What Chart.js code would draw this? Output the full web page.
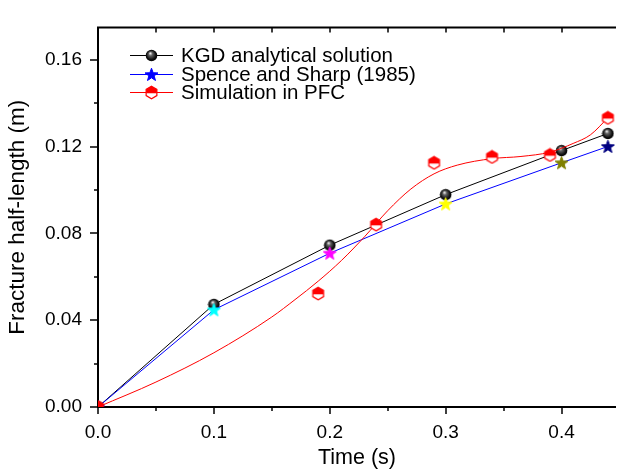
<!DOCTYPE html>
<html><head><meta charset="utf-8">
<script src="https://cdn.jsdelivr.net/npm/chart.js@4.4.0/dist/chart.umd.min.js"></script>
<style>html,body{margin:0;padding:0;background:#fff;overflow:hidden}canvas{display:block}</style>
</head><body>
<canvas id="c" width="623" height="471"></canvas>
<script>
// ---- data ----
const timeTheory   = [0, 0.1, 0.2, 0.3, 0.4, 0.44];
const kgdValues    = [0, 0.0473, 0.0746, 0.0979, 0.1182, 0.1261];
const spenceValues = [0, 0.0448, 0.0709, 0.0936, 0.1126, 0.1201];
const timeSim      = [0, 0.19, 0.24, 0.29, 0.34, 0.39, 0.44];
const simValues    = [0, 0.0523, 0.0841, 0.1126, 0.1153, 0.1162, 0.1333];
// smooth fitted curve of the simulation
const curveTime    = [0, 0.05, 0.10, 0.15, 0.17, 0.19, 0.21, 0.23, 0.25, 0.27, 0.29, 0.31, 0.34, 0.365, 0.39, 0.41, 0.425, 0.44];
const curveValues  = [0, 0.0115, 0.025, 0.0415, 0.0495, 0.058, 0.0675, 0.0785, 0.0905, 0.1005, 0.1075, 0.1115, 0.1145, 0.1155, 0.1175, 0.1215, 0.1255, 0.1333];
const seriesNames  = ['KGD analytical solution', 'Spence and Sharp (1985)', 'Simulation in PFC'];
const starColors   = ['#0000ff', '#00ffff', '#ff00ff', '#ffff00', '#808000', '#000080'];
const xTickLabels  = ['0.0', '0.1', '0.2', '0.3', '0.4'];
const yTickLabels  = ['0.00', '0.04', '0.08', '0.12', '0.16'];

const FONT = '"Liberation Sans", Arial, sans-serif';

// ---- marker images ----
function makeBall() {
  const c = document.createElement('canvas'); c.width = 13; c.height = 13;
  const g = c.getContext('2d');
  const grd = g.createRadialGradient(5.2, 4.2, 0.3, 6.5, 6.5, 6);
  grd.addColorStop(0, '#f0f0f0'); grd.addColorStop(0.3, '#606060'); grd.addColorStop(0.75, '#101010'); grd.addColorStop(1, '#000');
  g.fillStyle = grd; g.beginPath(); g.arc(6.5, 6.5, 5.8, 0, Math.PI * 2); g.fill();
  return c;
}
function makeStar(color) {
  const c = document.createElement('canvas'); c.width = 15; c.height = 15;
  const g = c.getContext('2d');
  g.translate(7.5, 8);
  g.beginPath();
  for (let i = 0; i < 10; i++) {
    const r = i % 2 === 0 ? 6.8 : 2.8;
    const a = -Math.PI / 2 + i * Math.PI / 5;
    const px = r * Math.cos(a), py = r * Math.sin(a);
    i === 0 ? g.moveTo(px, py) : g.lineTo(px, py);
  }
  g.closePath();
  g.fillStyle = color; g.fill();
  g.strokeStyle = color; g.lineWidth = 1; g.stroke();
  return c;
}
function makeHex() {
  const c = document.createElement('canvas'); c.width = 15; c.height = 15;
  const g = c.getContext('2d');
  const cx = 7.5, cy = 7.5, r = 6.2;
  const path = () => {
    g.beginPath();
    for (let i = 0; i < 6; i++) {
      const a = -Math.PI / 2 + i * Math.PI / 3;
      const px = cx + r * Math.cos(a), py = cy + r * Math.sin(a);
      i === 0 ? g.moveTo(px, py) : g.lineTo(px, py);
    }
    g.closePath();
  };
  path(); g.fillStyle = '#fff'; g.fill();
  g.save(); g.beginPath(); g.rect(0, 0, 15, cy + 0.8); g.clip();
  path(); g.fillStyle = '#ff0000'; g.fill(); g.restore();
  path(); g.strokeStyle = '#ff0000'; g.lineWidth = 1.2; g.stroke();
  return c;
}
const ballImg = makeBall();
const starImgs = starColors.map(makeStar);
const hexImg = makeHex();

const pts = (xs, ys) => xs.map((t, i) => ({x: t, y: ys[i]}));

// ---- axes / ticks decoration and legend ----
const axesPlugin = {
  id: 'axesDeco',
  beforeDatasetsDraw(chart) {
    const {ctx, chartArea: a, scales: {x, y}} = chart;
    ctx.save();
    ctx.strokeStyle = '#000';
    ctx.lineWidth = 2;
    ctx.beginPath();
    ctx.moveTo(a.left, a.top); ctx.lineTo(a.left, a.bottom + 1);
    ctx.moveTo(a.left - 1, a.bottom); ctx.lineTo(a.right, a.bottom);
    ctx.moveTo(a.left - 1, a.top); ctx.lineTo(a.right, a.top);
    ctx.stroke();
    ctx.lineWidth = 1.5;
    ctx.beginPath();
    for (let k = 0; k * 0.05 <= x.max + 1e-9; k++) {
      const px = Math.round(x.getPixelForValue(k * 0.05));
      const len = k % 2 === 0 ? 7 : 4;
      ctx.moveTo(px, a.bottom); ctx.lineTo(px, a.bottom + len);
      if (k > 0) { ctx.moveTo(px, a.top); ctx.lineTo(px, a.top + 5); }
    }
    for (let k = 0; k * 0.02 <= y.max + 1e-9; k++) {
      const py = Math.round(y.getPixelForValue(k * 0.02));
      const len = k % 2 === 0 ? 8 : 4;
      ctx.moveTo(a.left, py); ctx.lineTo(a.left - len, py);
    }
    ctx.stroke();
    ctx.restore();
  },
  afterDraw(chart) {
    const ctx = chart.ctx;
    const rows = [
      {color: '#000000', img: ballImg},
      {color: '#0000ff', img: starImgs[0]},
      {color: '#ff0000', img: hexImg}
    ];
    const x0 = 130, x1 = 173, y0 = 55, dy = 18.5;
    ctx.save();
    ctx.font = '20.5px ' + FONT;
    ctx.textBaseline = 'middle';
    ctx.fillStyle = '#000';
    rows.forEach((r, i) => {
      const yy = Math.round(y0 + i * dy);
      ctx.strokeStyle = r.color; ctx.lineWidth = 1;
      ctx.beginPath(); ctx.moveTo(x0, yy + 0.5); ctx.lineTo(x1, yy + 0.5); ctx.stroke();
      const cx = (x0 + x1) / 2;
      ctx.drawImage(r.img, cx - r.img.width / 2, yy - r.img.height / 2 + 0.5);
      ctx.fillText(seriesNames[i], 181, yy + 1);
    });
    ctx.restore();
  }
};

new Chart(document.getElementById('c'), {
  type: 'line',
  data: {
    datasets: [
      {label: seriesNames[2], data: pts(timeSim, simValues), showLine: false,
       pointStyle: hexImg, pointRadius: 6, order: 0},
      {label: seriesNames[2] + ' fit', data: pts(curveTime, curveValues), borderColor: '#ff0000', borderWidth: 1,
       pointRadius: 0, cubicInterpolationMode: 'monotone', order: 1},
      {label: seriesNames[1], data: pts(timeTheory, spenceValues), borderColor: '#0000ff', borderWidth: 1,
       pointStyle: starImgs, pointRadius: 6, tension: 0, order: 2},
      {label: seriesNames[0], data: pts(timeTheory, kgdValues), borderColor: '#000000', borderWidth: 1,
       pointStyle: ballImg, pointRadius: 6, tension: 0, order: 3}
    ]
  },
  options: {
    responsive: false, animation: false, devicePixelRatio: 1,
    layout: {padding: {top: 19, right: 0, bottom: 0, left: 0}},
    plugins: {legend: {display: false}, tooltip: {enabled: false}},
    scales: {
      x: {
        type: 'linear', min: 0, max: 0.447,
        afterFit(s) { s.height = 64; },
        grid: {display: false, drawTicks: false}, border: {display: false},
        ticks: {stepSize: 0.1, includeBounds: false, padding: 14, color: '#000', maxRotation: 0, autoSkip: false,
                font: {family: FONT, size: 19},
                callback: (v) => { const i = Math.round(v * 10); return xTickLabels[i] !== undefined ? xTickLabels[i] : ''; }},
        title: {display: true, text: 'Time (s)', color: '#000', font: {family: FONT, size: 21.5}, padding: {top: 0, bottom: 0}}
      },
      y: {
        type: 'linear', min: 0, max: 0.175,
        afterFit(s) { s.width = 98; },
        grid: {display: false, drawTicks: false}, border: {display: false},
        ticks: {stepSize: 0.04, includeBounds: false, padding: 16, color: '#000', autoSkip: false,
                font: {family: FONT, size: 19},
                callback: (v) => { const i = Math.round(v / 0.04); return yTickLabels[i] !== undefined ? yTickLabels[i] : ''; }},
        title: {display: true, text: 'Fracture half-length (m)', color: '#000', font: {family: FONT, size: 22.5}, padding: {top: 4, bottom: 0}}
      }
    }
  },
  plugins: [axesPlugin]
});
</script>
</body></html>
